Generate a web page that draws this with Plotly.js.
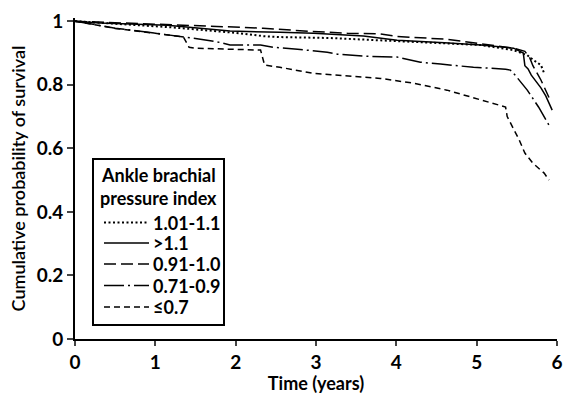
<!DOCTYPE html>
<html>
<head>
<meta charset="utf-8">
<script src="https://cdn.plot.ly/plotly-3.0.1.min.js"></script>
<style>html,body{margin:0;padding:0;background:#fff;}#chart{width:575px;height:394px;}</style>
</head>
<body>
<div id="chart"></div>
<script>
// Kaplan-Meier style survival curves
const legendTitle = ["Ankle brachial", "pressure index"];
const seriesNames = ["1.01-1.1", ">1.1", "0.91-1.0", "0.71-0.9", "≤0.7"];

const t_101_11 = [0, 0.4, 1.18, 1.6, 2.05, 2.34, 2.55, 3.18, 3.8, 4.01, 4.6, 5.05, 5.46, 5.63, 5.71, 5.8, 5.84];
const s_101_11 = [1, 0.994, 0.981, 0.972, 0.962, 0.953, 0.95, 0.947, 0.94, 0.937, 0.93, 0.925, 0.909, 0.893, 0.877, 0.862, 0.836];

const t_gt11 = [0, 0.31, 1.15, 1.93, 2.55, 2.97, 3.59, 3.8, 4.01, 4.6, 5.05, 5.46, 5.58, 5.6, 5.64, 5.68, 5.8, 5.86, 5.94];
const s_gt11 = [1, 0.994, 0.987, 0.969, 0.965, 0.962, 0.953, 0.946, 0.94, 0.932, 0.925, 0.915, 0.9, 0.86, 0.85, 0.83, 0.79, 0.765, 0.72];

const t_091_10 = [0, 0.5, 1.15, 1.97, 2.34, 2.8, 3.39, 3.8, 4.01, 4.63, 5.05, 5.46, 5.6, 5.66, 5.7, 5.8, 5.9];
const s_091_10 = [1, 0.995, 0.988, 0.98, 0.978, 0.97, 0.962, 0.96, 0.952, 0.943, 0.93, 0.915, 0.905, 0.885, 0.86, 0.815, 0.76];

const t_071_09 = [0, 0.3, 0.5, 1.0, 1.35, 1.52, 1.77, 1.93, 2.31, 2.47, 2.77, 3.14, 3.27, 3.59, 4.01, 4.3, 4.55, 4.96, 5.36, 5.42, 5.48, 5.63, 5.77, 5.9];
const s_071_09 = [1, 0.986, 0.978, 0.962, 0.952, 0.945, 0.935, 0.925, 0.925, 0.918, 0.912, 0.902, 0.896, 0.89, 0.887, 0.871, 0.865, 0.855, 0.849, 0.846, 0.83, 0.783, 0.73, 0.673];

const t_le07 = [0, 0.3, 0.5, 1.0, 1.35, 1.42, 1.5, 2.31, 2.36, 2.55, 2.96, 3.8, 4.21, 4.63, 5.04, 5.2, 5.36, 5.38, 5.45, 5.53, 5.6, 5.7, 5.84, 5.9];
const s_le07 = [1, 0.986, 0.977, 0.962, 0.95, 0.918, 0.915, 0.909, 0.862, 0.855, 0.836, 0.82, 0.805, 0.783, 0.752, 0.742, 0.73, 0.70, 0.667, 0.626, 0.585, 0.553, 0.522, 0.5];

const xTicks = [0, 1, 2, 3, 4, 5, 6];
const yTicks = [0, 0.2, 0.4, 0.6, 0.8, 1];
const yTickText = ["0", "0.2", "0.4", "0.6", "0.8", "1"];

const styles = [
  {dash: "2px,2.5px", width: 2},
  {dash: "solid", width: 1.5},
  {dash: "12px,5px", width: 1.5},
  {dash: "20px,4px,2px,4px", width: 1.5},
  {dash: "6px,4px", width: 1.5}
];
const xs = [t_101_11, t_gt11, t_091_10, t_071_09, t_le07];
const ys = [s_101_11, s_gt11, s_091_10, s_071_09, s_le07];

const FONT = "Lato, 'Open Sans', sans-serif";

const traces = seriesNames.map((n, i) => ({
  type: "scatter", mode: "lines", name: n,
  x: xs[i], y: ys[i],
  line: {color: "#000", width: styles[i].width, dash: styles[i].dash},
  showlegend: false, hoverinfo: "skip"
}));

// hand-drawn framed legend, as in the figure
const W = 575, H = 394, L = 75, R = 18, T = 18, B = 55;
const pw = W - L - R, ph = H - T - B;
const px = v => (v - L) / pw;
const py = v => (H - B - v) / ph;
const shapes = [];
const annotations = [];
shapes.push({type: "rect", xref: "paper", yref: "paper",
  x0: px(93), x1: px(224), y0: py(325), y1: py(159),
  line: {color: "#000", width: 2}, fillcolor: "rgba(255,255,255,0)"});
legendTitle.forEach((t, i) => annotations.push({
  xref: "paper", yref: "paper", x: px(158.5), y: py(175 + i * 23),
  text: t, showarrow: false, xanchor: "center", yanchor: "middle",
  font: {family: FONT, size: 18, color: "#000", weight: 700}
}));
const rows = [222.5, 243, 264, 285.5, 307];
seriesNames.forEach((n, i) => {
  shapes.push({type: "line", xref: "paper", yref: "paper",
    x0: px(104), x1: px(149), y0: py(rows[i]), y1: py(rows[i]),
    line: {color: "#000", width: styles[i].width, dash: styles[i].dash}});
  annotations.push({xref: "paper", yref: "paper", x: px(151), y: py(rows[i]),
    text: n, showarrow: false, xanchor: "left", yanchor: "middle",
    font: {family: FONT, size: 18, color: "#000", weight: 700}});
});

const layout = {
  width: W, height: H,
  margin: {l: L, r: R, t: T, b: B},
  paper_bgcolor: "#fff", plot_bgcolor: "#fff",
  font: {family: FONT, color: "#000"},
  showlegend: false,
  xaxis: {
    range: [0, 6], tickvals: xTicks, ticks: "outside", ticklen: 5, tickwidth: 2,
    showline: true, linewidth: 2, linecolor: "#000", showgrid: false, zeroline: false,
    tickfont: {family: FONT, size: 19, weight: 700},
    title: {text: "Time (years)", font: {family: FONT, size: 18, weight: 700}, standoff: 6}
  },
  yaxis: {
    range: [0, 1.01], tickvals: yTicks, ticktext: yTickText, ticks: "outside", ticklen: 6, tickwidth: 2,
    showline: true, linewidth: 2, linecolor: "#000", showgrid: false, zeroline: false,
    tickfont: {family: FONT, size: 19, weight: 700},
    title: {text: "Cumulative probability of survival", font: {family: FONT, size: 18, weight: 600}, standoff: 6}
  },
  shapes: shapes,
  annotations: annotations
};

Plotly.newPlot("chart", traces, layout, {staticPlot: true, displayModeBar: false});
</script>
</body>
</html>
